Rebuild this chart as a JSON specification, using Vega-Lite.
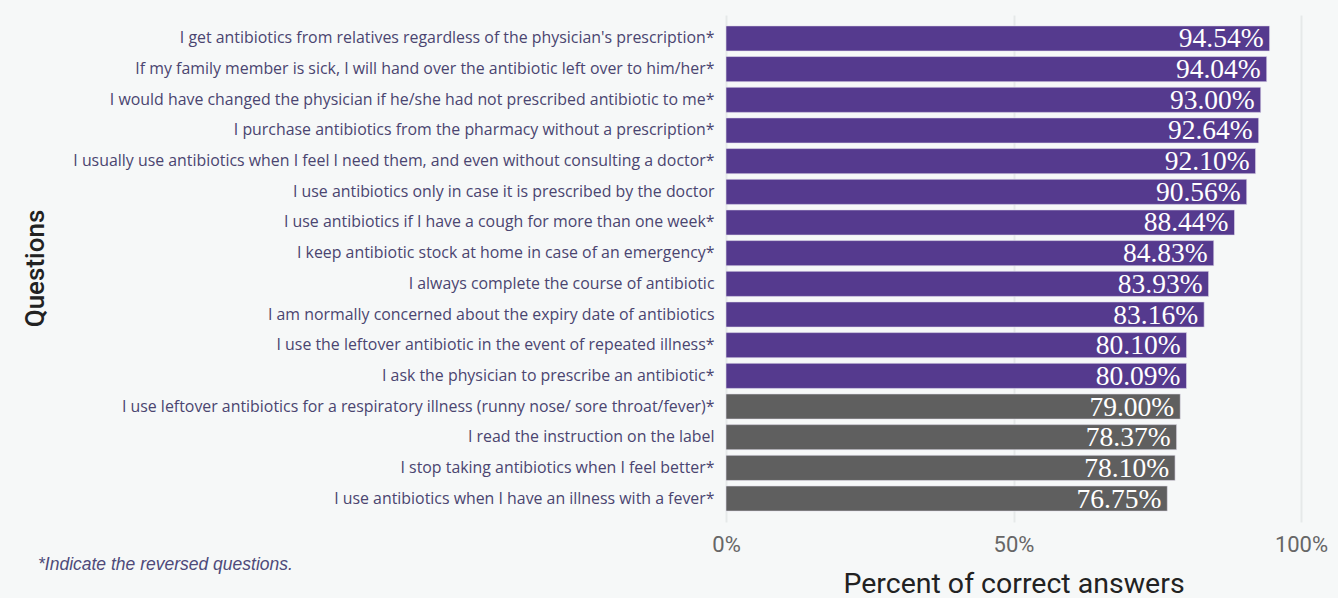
{
  "$schema": "https://vega.github.io/schema/vega-lite/v6.json",
  "autosize": {"type": "none"},
  "padding": {"left": 726, "top": 15, "right": 37, "bottom": 76},
  "width": 575,
  "height": 507,
  "background": "#f6f8f8",
  "title": {
    "text": "*Indicate the reversed questions.",
    "orient": "bottom",
    "anchor": "start",
    "frame": "bounds",
    "font": "Liberation Sans",
    "fontSize": 17.5,
    "fontStyle": "italic",
    "fontWeight": "normal",
    "color": "#4e4a7a",
    "offset": -42,
    "dx": 16
  },
  "data": {
    "values": [
      {"question": "I get antibiotics from relatives regardless of the physician's prescription*", "value": 0.9454, "group": "high"},
      {"question": "If my family member is sick, I will hand over the antibiotic left over to him/her*", "value": 0.9404, "group": "high"},
      {"question": "I would have changed the physician if he/she had not prescribed antibiotic to me*", "value": 0.93, "group": "high"},
      {"question": "I purchase antibiotics from the pharmacy without a prescription*", "value": 0.9264, "group": "high"},
      {"question": "I usually use antibiotics when I feel I need them, and even without consulting a doctor*", "value": 0.921, "group": "high"},
      {"question": "I use antibiotics only in case it is prescribed by the doctor", "value": 0.9056, "group": "high"},
      {"question": "I use antibiotics if I have a cough for more than one week*", "value": 0.8844, "group": "high"},
      {"question": "I keep antibiotic stock at home in case of an emergency*", "value": 0.8483, "group": "high"},
      {"question": "I always complete the course of antibiotic", "value": 0.8393, "group": "high"},
      {"question": "I am normally concerned about the expiry date of antibiotics", "value": 0.8316, "group": "high"},
      {"question": "I use the leftover antibiotic in the event of repeated illness*", "value": 0.801, "group": "high"},
      {"question": "I ask the physician to prescribe an antibiotic*", "value": 0.8009, "group": "high"},
      {"question": "I use leftover antibiotics for a respiratory illness (runny nose/ sore throat/fever)*", "value": 0.79, "group": "low"},
      {"question": "I read the instruction on the label", "value": 0.7837, "group": "low"},
      {"question": "I stop taking antibiotics when I feel better*", "value": 0.781, "group": "low"},
      {"question": "I use antibiotics when I have an illness with a fever*", "value": 0.7675, "group": "low"}
    ]
  },
  "encoding": {
    "y": {
      "field": "question",
      "type": "nominal",
      "sort": "-x",
      "scale": {"paddingInner": 0.18, "paddingOuter": 0.355},
      "axis": {
        "title": "Questions",
        "titleFont": "Roboto",
        "titleFontSize": 26,
        "titleFontWeight": 500,
        "titleColor": "#222222",
        "titleX": -691,
        "titleY": 253,
        "titleAlign": "center",
        "titleBaseline": "middle",
        "titleAngle": -90,
        "labelFont": "Open Sans",
        "labelFontSize": 15.9,
        "labelColor": "#4a4570",
        "labelLimit": 800,
        "labelPadding": 12,
        "ticks": false,
        "domain": false,
        "grid": false
      }
    },
    "x": {
      "field": "value",
      "type": "quantitative",
      "scale": {"domain": [0, 1], "nice": false},
      "axis": {
        "title": "Percent of correct answers",
        "titleFont": "Roboto",
        "titleFontSize": 28.5,
        "titleFontWeight": "normal",
        "titleColor": "#222222",
        "titlePadding": 14,
        "values": [0, 0.5, 1],
        "format": ".0%",
        "labelFont": "Roboto",
        "labelFontSize": 22,
        "labelColor": "#666666",
        "labelPadding": 12,
        "labelFlush": false,
        "ticks": false,
        "domain": false,
        "grid": true,
        "gridColor": "#e6e9e9",
        "gridWidth": 2
      }
    }
  },
  "layer": [
    {
      "mark": {"type": "bar", "stroke": "#e4e0ee", "strokeWidth": 0.6},
      "encoding": {
        "color": {
          "field": "group",
          "type": "nominal",
          "scale": {"domain": ["high", "low"], "range": ["#553a8e", "#5f5f5f"]},
          "legend": null
        }
      }
    },
    {
      "mark": {"type": "text", "align": "right", "baseline": "middle", "dx": -6, "dy": 1, "font": "Liberation Serif", "fontSize": 27.5, "color": "#ffffff"},
      "encoding": {
        "text": {"field": "value", "type": "quantitative", "format": ".2%"}
      }
    }
  ],
  "config": {
    "view": {"stroke": null}
  }
}
